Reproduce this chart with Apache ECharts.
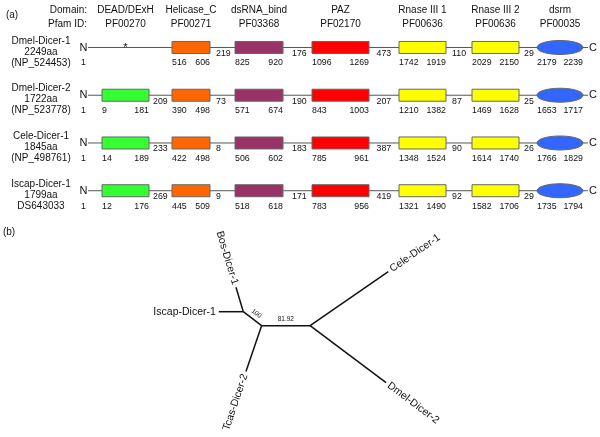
<!DOCTYPE html>
<html><head><meta charset="utf-8">
<script src="https://cdn.jsdelivr.net/npm/echarts@6/dist/echarts.min.js"></script>
<style>html,body{margin:0;padding:0;background:#fff}#chart{width:600px;height:437px}</style>
</head><body><div id="chart"></div>
<script>
// ---------------- data ----------------
const proteins = ['Dmel-Dicer-1', 'Dmel-Dicer-2', 'Cele-Dicer-1', 'Iscap-Dicer-1'];
const proteinLength = [2249, 1722, 1845, 1799];
const accessions = ['(NP_524453)', '(NP_523778)', '(NP_498761)', 'DS643033'];
const domainNames = ['DEAD/DExH', 'Helicase_C', 'dsRNA_bind', 'PAZ', 'Rnase III 1', 'Rnase III 2', 'dsrm'];
const pfamIds = ['PF00270', 'PF00271', 'PF03368', 'PF02170', 'PF00636', 'PF00636', 'PF00035'];
const domainStart = [
  [null, 516, 825, 1096, 1742, 2029, 2179],
  [9, 390, 571, 843, 1210, 1469, 1653],
  [14, 422, 506, 785, 1348, 1614, 1766],
  [12, 445, 518, 783, 1321, 1582, 1735]
];
const domainEnd = [
  [null, 606, 920, 1269, 1919, 2150, 2239],
  [181, 498, 674, 1003, 1382, 1628, 1717],
  [189, 498, 602, 961, 1524, 1740, 1829],
  [176, 509, 618, 956, 1490, 1706, 1794]
];
const gapLabels = [
  [null, 219, 176, 473, 110, 29],
  [209, 73, 190, 207, 87, 25],
  [233, 8, 183, 387, 90, 26],
  [269, 9, 171, 419, 92, 29]
];
const missingDomainMark = ['*', null, null, null];

// unrooted tree (parent index, branch length, support)
const treeNodes = ['', '', '', 'Iscap-Dicer-1', 'Bos-Dicer-1', 'Tcas-Dicer-2', 'Cele-Dicer-1', 'Dmel-Dicer-2'];
const treeParent = [-1, 0, 1, 0, 0, 1, 2, 2];
const branchLength = [0, 23, 48.5, 24.5, 25.5, 48.5, 95, 95];
const branchSupport = [null, '100', '81.92', null, null, null, null, null];

// ---------------- layout ----------------
const branchAngle = [0, -37.3, 0, 180, 106.7, 251.2, 34.6, -36.9];
const slotCenter = [125.5, 191, 259, 340.5, 422.5, 495.5, 560];
const slotWidth = [47, 38, 48, 57, 47, 47, 46];
const gapLabelX = [153, 216, 292, 376.5, 452, 524];
const domainColors = ['#33ff33', '#ff6600', '#993366', '#ff0000', '#ffff00', '#ffff00', '#3366ff'];
const FONT = 'Arial, "Liberation Sans", Helvetica, sans-serif';
const TXT = '#111';
const NUM = 8.8;

// tree positions from branch lengths
const treePos = [];
treeParent.forEach((p, i) => {
  if (p < 0) { treePos[i] = [0, 0]; return; }
  const a = branchAngle[i] * Math.PI / 180;
  treePos[i] = [treePos[p][0] + branchLength[i] * Math.cos(a), treePos[p][1] + branchLength[i] * Math.sin(a)];
});
const treeEdges = [];
treeParent.forEach((p, i) => { if (p >= 0) treeEdges.push([treePos[p][0], treePos[p][1], treePos[i][0], treePos[i][1], i]); });

function txt(x, y, text, size, align, vAlign, extra) {
  return Object.assign({
    type: 'text', x: x, y: y,
    style: { text: String(text), fontSize: size, fontFamily: FONT, fill: TXT, align: align || 'center', verticalAlign: vAlign || 'middle' }
  }, extra || {});
}

function renderProtein(params, api) {
  const r = api.value(0);
  const y = api.coord([0, r])[1];
  const X = v => api.coord([v, r])[0];
  const ch = [];
  ch.push({ type: 'line', shape: { x1: X(88), y1: y, x2: X(588), y2: y }, style: { stroke: '#555', lineWidth: 1 } });
  ch.push(txt(X(87.5), y, 'N', 11, 'right'));
  ch.push(txt(X(589), y, 'C', 11, 'left'));
  ch.push(txt(X(83.5), y + 15.5, '1', NUM));
  ch.push(txt(X(41), y - 6.5, proteins[r], 10));
  ch.push(txt(X(41), y + 4.5, proteinLength[r] + 'aa', 10));
  ch.push(txt(X(41), y + 15.5, accessions[r], 10));
  for (let j = 0; j < domainNames.length; j++) {
    const s = domainStart[r][j], e = domainEnd[r][j];
    const x0 = X(slotCenter[j] - slotWidth[j] / 2), x1 = X(slotCenter[j] + slotWidth[j] / 2);
    if (s == null) {
      if (j === 0 && missingDomainMark[r]) ch.push(txt(X(slotCenter[j]), y, missingDomainMark[r], 11));
      continue;
    }
    if (j === domainNames.length - 1) {
      ch.push({ type: 'ellipse', shape: { cx: (x0 + x1) / 2, cy: y, rx: (x1 - x0) / 2, ry: 7 }, style: { fill: domainColors[j], stroke: '#666', lineWidth: 1 } });
    } else {
      ch.push({ type: 'rect', shape: { x: x0, y: y - 6, width: x1 - x0, height: 12 }, style: { fill: domainColors[j], stroke: '#666', lineWidth: 1 } });
    }
    ch.push(txt(x0, y + 15.5, s, NUM, 'left'));
    ch.push(txt(x1, y + 15.5, e, NUM, 'right'));
  }
  gapLabels[r].forEach((g, k) => { if (g != null) ch.push(txt(X(gapLabelX[k]), y + 6, g, NUM, 'left')); });
  return { type: 'group', children: ch };
}

function renderBranch(params, api) {
  const p1 = api.coord([api.value(0), api.value(1)]);
  const p2 = api.coord([api.value(2), api.value(3)]);
  const i = api.value(4);
  const ch = [{ type: 'line', shape: { x1: p1[0], y1: p1[1], x2: p2[0], y2: p2[1] }, style: { stroke: '#111', lineWidth: 1.5 } }];
  const dx = p2[0] - p1[0], dy = p2[1] - p1[1], len = Math.hypot(dx, dy);
  const ux = dx / len, uy = dy / len;
  if (treeNodes[i]) {
    const gap = 3;
    const ax = p2[0] + ux * gap, ay = p2[1] + uy * gap;
    const ang = Math.atan2(-dy, dx); // math angle, ccw
    if (dx >= 0) ch.push(txt(ax, ay, treeNodes[i], 10.5, 'left', 'middle', { rotation: ang }));
    else ch.push(txt(ax, ay, treeNodes[i], 10.5, 'right', 'middle', { rotation: ang - Math.PI }));
  }
  if (branchSupport[i]) {
    const mx = (p1[0] + p2[0]) / 2 + uy * 6.5, my = (p1[1] + p2[1]) / 2 - ux * 6.5;
    ch.push(txt(mx, my, branchSupport[i], 6.5, 'center', 'middle', { rotation: Math.atan2(-dy, dx) }));
  }
  return { type: 'group', children: ch };
}

const graphics = [
  txt(12, 15, '(a)', 10),
  txt(9, 232, '(b)', 10),
  txt(87, 10, 'Domain:', 10, 'right'),
  txt(87, 24, 'Pfam ID:', 10, 'right')
];
domainNames.forEach((d, j) => {
  graphics.push(txt(slotCenter[j], 10, d, 10));
  graphics.push(txt(slotCenter[j], 24, pfamIds[j], 10));
});

const chart = echarts.init(document.getElementById('chart'), null, { renderer: 'canvas' });
chart.setOption({
  animation: false,
  backgroundColor: '#fff',
  graphic: graphics,
  grid: [
    { left: 0, top: 23.6, width: 600, height: 191 },
    { left: 200, top: 220, width: 260, height: 217 }
  ],
  xAxis: [
    { type: 'value', gridIndex: 0, min: 0, max: 600, show: false },
    { type: 'value', gridIndex: 1, min: -43.3, max: 216.7, show: false }
  ],
  yAxis: [
    { type: 'category', gridIndex: 0, data: proteins, inverse: true, show: false },
    { type: 'value', gridIndex: 1, min: -125.3, max: 91.7, show: false }
  ],
  series: [
    { type: 'custom', xAxisIndex: 0, yAxisIndex: 0, silent: true, clip: false,
      data: proteins.map((p, i) => [i]), renderItem: renderProtein },
    { type: 'custom', xAxisIndex: 1, yAxisIndex: 1, silent: true, clip: false,
      data: treeEdges, renderItem: renderBranch }
  ]
});
</script></body></html>
